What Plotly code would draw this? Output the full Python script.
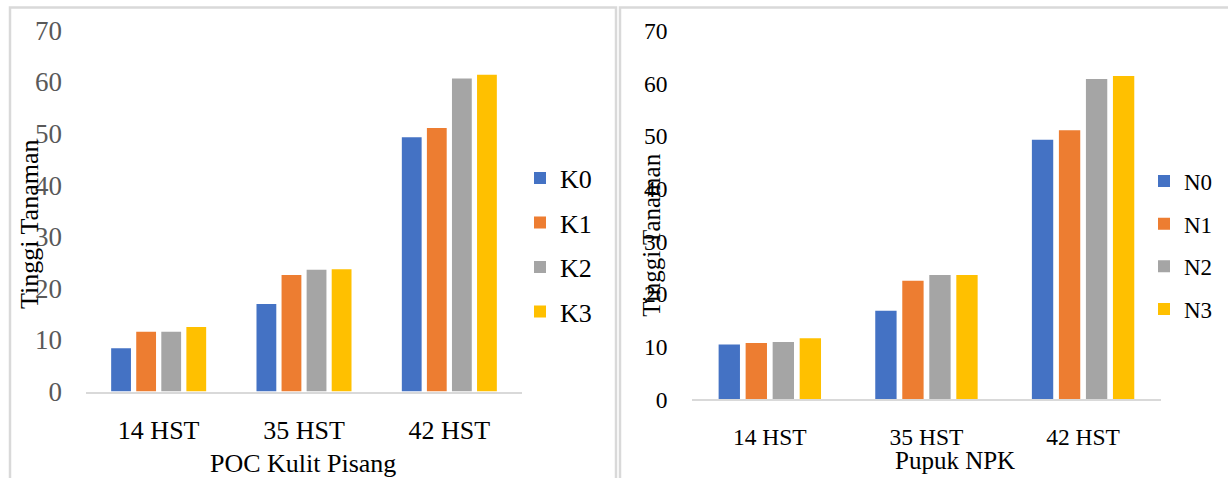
import plotly.graph_objects as go

# Tinggi tanaman per umur pengamatan (HST)
categories = ["14 HST", "35 HST", "42 HST"]

# POC kulit pisang
poc_labels = ["K0", "K1", "K2", "K3"]
poc_k0 = [8.4, 17.0, 49.3]
poc_k1 = [11.6, 22.6, 51.1]
poc_k2 = [11.6, 23.6, 60.7]
poc_k3 = [12.5, 23.7, 61.4]

# Pupuk NPK
npk_labels = ["N0", "N1", "N2", "N3"]
npk_n0 = [10.4, 16.8, 49.3]
npk_n1 = [10.7, 22.5, 51.1]
npk_n2 = [10.9, 23.6, 60.8]
npk_n3 = [11.6, 23.6, 61.4]

y_ticks = [0, 10, 20, 30, 40, 50, 60, 70]

colors = ["#4472C4", "#ED7D31", "#A5A5A5", "#FFC000"]

W, H = 1228, 478
FONT = "Liberation Serif"


def px(x):
    return x / W


def py(y):
    return 1 - y / H


fig = go.Figure()

for name, vals, col in zip(poc_labels, [poc_k0, poc_k1, poc_k2, poc_k3], colors):
    fig.add_trace(go.Bar(
        x=categories, y=vals, name=name, marker=dict(color=col, line=dict(width=0)),
        xaxis="x", yaxis="y", legend="legend", legendgroup="poc_" + name,
    ))

for name, vals, col in zip(npk_labels, [npk_n0, npk_n1, npk_n2, npk_n3], colors):
    fig.add_trace(go.Bar(
        x=categories, y=vals, name=name, marker=dict(color=col, line=dict(width=0)),
        xaxis="x2", yaxis="y2", legend="legend2", legendgroup="npk_" + name,
    ))

axis_line = "#D9D9D9"

fig.update_layout(
    template="none",
    width=W, height=H,
    margin=dict(l=0, r=0, t=0, b=0, pad=0, autoexpand=False),
    paper_bgcolor="white", plot_bgcolor="white",
    barmode="group", bargap=0.31, bargroupgap=0.21,
    font=dict(family=FONT, color="black"),
    xaxis=dict(
        domain=[px(86), px(522)], anchor="y", type="category", automargin=False,
        showline=True, linecolor=axis_line, linewidth=2, showgrid=False, zeroline=False,
        ticks="", ticklabelstandoff=14,
        tickfont=dict(family=FONT, size=26, color="black"),
        fixedrange=True,
    ),
    yaxis=dict(
        domain=[py(391.6), py(30.4)], anchor="x", range=[0, 70], automargin=False,
        tickvals=y_ticks, showgrid=False, zeroline=False, showline=False,
        ticks="", ticklabelstandoff=23,
        tickfont=dict(family=FONT, size=27, color="#595959"),
        fixedrange=True,
    ),
    xaxis2=dict(
        domain=[px(691.5), px(1161.4)], anchor="y2", type="category", automargin=False,
        showline=True, linecolor=axis_line, linewidth=2, showgrid=False, zeroline=False,
        ticks="", ticklabelstandoff=15,
        tickfont=dict(family=FONT, size=23.5, color="black"),
        fixedrange=True,
    ),
    yaxis2=dict(
        domain=[py(399.3), py(30.6)], anchor="x2", range=[0, 70], automargin=False,
        tickvals=y_ticks, showgrid=False, zeroline=False, showline=False,
        ticks="", ticklabelstandoff=23,
        tickfont=dict(family=FONT, size=23.5, color="black"),
        fixedrange=True,
    ),
    legend=dict(
        x=px(520), y=py(154.5), xanchor="left", yanchor="top",
        font=dict(family=FONT, size=26, color="black"),
        tracegroupgap=7.7, bgcolor="rgba(0,0,0,0)",
    ),
    legend2=dict(
        x=px(1144), y=py(159.5), xanchor="left", yanchor="top",
        font=dict(family=FONT, size=23, color="black"),
        tracegroupgap=9.8, bgcolor="rgba(0,0,0,0)",
    ),
    showlegend=True,
)

# Axis titles
fig.add_annotation(text="POC Kulit Pisang", x=px(303.4), y=py(463), xref="paper", yref="paper",
                   showarrow=False, xanchor="center", yanchor="middle",
                   font=dict(family=FONT, size=26, color="black"))
fig.add_annotation(text="Pupuk NPK", x=px(954.6), y=py(460), xref="paper", yref="paper",
                   showarrow=False, xanchor="center", yanchor="middle",
                   font=dict(family=FONT, size=25, color="black"))
fig.add_annotation(text="Tinggi Tanaman", x=px(29.4), y=py(224.5), xref="paper", yref="paper",
                   showarrow=False, xanchor="center", yanchor="middle", textangle=-90,
                   font=dict(family=FONT, size=26, color="black"))
fig.add_annotation(text="Tinggi Tanaman", x=px(651.2), y=py(235.5), xref="paper", yref="paper",
                   showarrow=False, xanchor="center", yanchor="middle", textangle=-90,
                   font=dict(family=FONT, size=25, color="black"))

# Chart area borders
border = dict(color="#D9D9D9", width=2.5)
fig.add_shape(type="rect", xref="paper", yref="paper",
              x0=px(10), x1=px(616), y0=py(500), y1=py(7.5), line=border, layer="below")
fig.add_shape(type="rect", xref="paper", yref="paper",
              x0=px(620), x1=px(1240), y0=py(500), y1=py(7.5), line=border, layer="below")

fig.write_html("out.html")
